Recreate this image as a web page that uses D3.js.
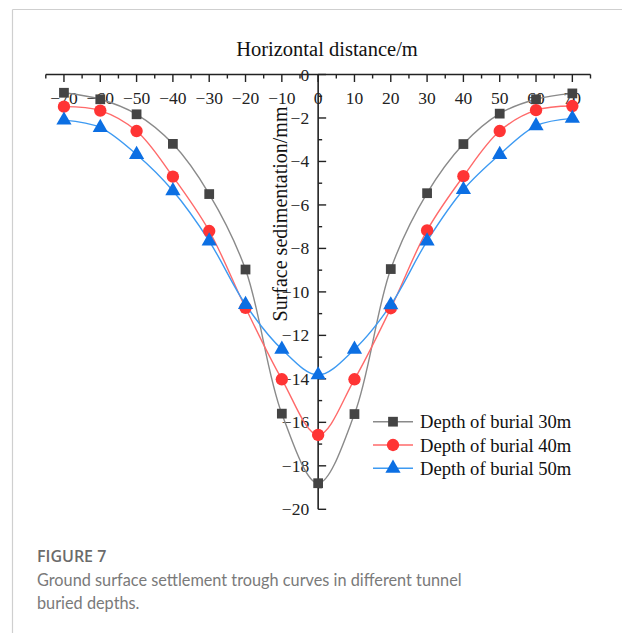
<!DOCTYPE html>
<html>
<head>
<meta charset="utf-8">
<script src="https://cdn.jsdelivr.net/npm/d3@7/dist/d3.min.js"></script>
<style>
  html, body { margin: 0; padding: 0; background: #fff; }
  svg { display: block; }
</style>
</head>
<body>
<svg id="chart" width="622" height="633"></svg>
<script>
// Horizontal distance from tunnel axis (m)
const distances = [-70, -60, -50, -40, -30, -20, -10, 0, 10, 20, 30, 40, 50, 60, 70];
// Surface settlement (mm) for each burial depth
const depth30 = [-0.84, -1.14, -1.83, -3.19, -5.50, -8.97, -15.60, -18.80, -15.62, -8.95, -5.46, -3.20, -1.80, -1.14, -0.87];
const depth40 = [-1.48, -1.66, -2.60, -4.70, -7.20, -10.73, -14.02, -16.58, -14.02, -10.75, -7.17, -4.68, -2.60, -1.64, -1.45];
const depth50 = [-2.10, -2.44, -3.68, -5.35, -7.66, -10.58, -12.64, -13.82, -12.64, -10.60, -7.66, -5.30, -3.68, -2.36, -2.02];
const seriesNames = ["Depth of burial 30m", "Depth of burial 40m", "Depth of burial 50m"];
const xTicks = [-70, -60, -50, -40, -30, -20, -10, 0, 10, 20, 30, 40, 50, 60, 70];
const yTicks = [0, -2, -4, -6, -8, -10, -12, -14, -16, -18, -20];

const svg = d3.select("#chart");
const serif = "'Liberation Serif', 'Times New Roman', serif";

// light frame around the figure panel
svg.append("line").attr("x1", 12.5).attr("x2", 622).attr("y1", 9.5).attr("y2", 9.5)
  .attr("stroke", "#cfcfcf").attr("stroke-width", 1.2);
svg.append("line").attr("x1", 12.5).attr("x2", 12.5).attr("y1", 9.5).attr("y2", 633)
  .attr("stroke", "#cfcfcf").attr("stroke-width", 1.2);

const x = d3.scaleLinear().domain([-75, 75]).range([45.8, 590.5]);
const y = d3.scaleLinear().domain([-20, 0]).range([509.3, 74.5]);

const axisColor = "#222";

// X axis along the top (y = 0)
const gx = svg.append("g").attr("transform", `translate(0,${y(0)})`);
gx.append("line").attr("x1", x(-75)).attr("x2", x(75)).attr("stroke", axisColor).attr("stroke-width", 1.6);
gx.selectAll(".minor").data(d3.range(-75, 76, 10)).join("line")
  .attr("x1", d => x(d)).attr("x2", d => x(d)).attr("y1", 0).attr("y2", 4)
  .attr("stroke", axisColor).attr("stroke-width", 1.4);
gx.selectAll(".major").data(xTicks).join("line")
  .attr("x1", d => x(d)).attr("x2", d => x(d)).attr("y1", 0).attr("y2", 7.5)
  .attr("stroke", axisColor).attr("stroke-width", 1.4);
gx.selectAll("text").data(xTicks).join("text")
  .attr("x", d => x(d)).attr("y", 29)
  .attr("text-anchor", "middle")
  .attr("font-family", serif).attr("font-size", 17.5).attr("fill", "#222")
  .text(d => d < 0 ? "\u2212" + Math.abs(d) : d);

// Y axis through x = 0
const gy = svg.append("g").attr("transform", `translate(${x(0)},0)`);
gy.append("line").attr("y1", y(0)).attr("y2", y(-20)).attr("stroke", axisColor).attr("stroke-width", 1.6);
gy.selectAll(".minor").data(d3.range(-1, -20, -2)).join("line")
  .attr("x1", 0).attr("x2", 4).attr("y1", d => y(d)).attr("y2", d => y(d))
  .attr("stroke", axisColor).attr("stroke-width", 1.4);
gy.selectAll(".major").data(yTicks).join("line")
  .attr("x1", 0).attr("x2", 8).attr("y1", d => y(d)).attr("y2", d => y(d))
  .attr("stroke", axisColor).attr("stroke-width", 1.4);
gy.selectAll("text").data(yTicks).join("text")
  .attr("x", -9).attr("y", d => y(d) + 6)
  .attr("text-anchor", "end")
  .attr("font-family", serif).attr("font-size", 17.5).attr("fill", "#222")
  .text(d => d < 0 ? "\u2212" + Math.abs(d) : d);

// Axis titles
svg.append("text").attr("x", 327).attr("y", 56).attr("text-anchor", "middle")
  .attr("font-family", serif).attr("font-size", 20.5).attr("fill", "#111")
  .text("Horizontal distance/m");
svg.append("text").attr("transform", "translate(287,214) rotate(-90)").attr("text-anchor", "middle")
  .attr("font-family", serif).attr("font-size", 20).attr("fill", "#111")
  .text("Surface sedimentation/mm");

// Series
const series = [
  { name: seriesNames[0], values: depth30, line: "#8a8a8a", fill: "#444444", symbol: d3.symbolSquare, size: 95 },
  { name: seriesNames[1], values: depth40, line: "#ff6a6a", fill: "#ff3434", symbol: d3.symbolCircle, size: 120 },
  { name: seriesNames[2], values: depth50, line: "#3d9af2", fill: "#0c6fe3", symbol: d3.symbolTriangle, size: 100 }
];

const lineGen = d3.line()
  .x(d => x(d[0])).y(d => y(d[1]))
  .curve(d3.curveCatmullRom.alpha(0.5));

series.forEach(s => {
  const pts = distances.map((d, i) => [d, s.values[i]]);
  svg.append("path").attr("d", lineGen(pts))
    .attr("fill", "none").attr("stroke", s.line).attr("stroke-width", 1.4);
});
series.forEach(s => {
  const pts = distances.map((d, i) => [d, s.values[i]]);
  svg.append("g").selectAll("path").data(pts).join("path")
    .attr("transform", d => `translate(${x(d[0])},${y(d[1])})`)
    .attr("d", d3.symbol().type(s.symbol).size(s.size))
    .attr("fill", s.fill);
});

// Legend
const legendRows = [421.7, 445, 468.3];
series.forEach((s, i) => {
  const g = svg.append("g").attr("transform", `translate(0,${legendRows[i]})`);
  g.append("line").attr("x1", 373).attr("x2", 413).attr("stroke", s.line).attr("stroke-width", 1.4);
  g.append("path").attr("transform", "translate(393,0)")
    .attr("d", d3.symbol().type(s.symbol).size(s.size)).attr("fill", s.fill);
  g.append("text").attr("x", 420).attr("y", 6.5)
    .attr("font-family", serif).attr("font-size", 18.6).attr("fill", "#111")
    .text(s.name);
});

// Caption
svg.append("text").attr("x", 37).attr("y", 561.5)
  .attr("font-family", "'Open Sans', sans-serif").attr("font-size", 16).attr("font-weight", 600)
  .attr("fill", "#6b6b6b").text("FIGURE 7");
const capLines = ["Ground surface settlement trough curves in different tunnel", "buried depths."];
const capText = svg.selectAll(".cap").data(capLines).join("text")
  .attr("x", 37).attr("y", (d, i) => 586 + i * 23)
  .attr("font-family", "Lato, sans-serif").attr("font-size", 17)
  .attr("fill", "#7a7a7a").text(d => d);
// size the caption so its first line spans the panel text width
const firstLen = capText.node().getComputedTextLength();
capText.attr("font-size", 17 * 425 / firstLen);
</script>
</body>
</html>
